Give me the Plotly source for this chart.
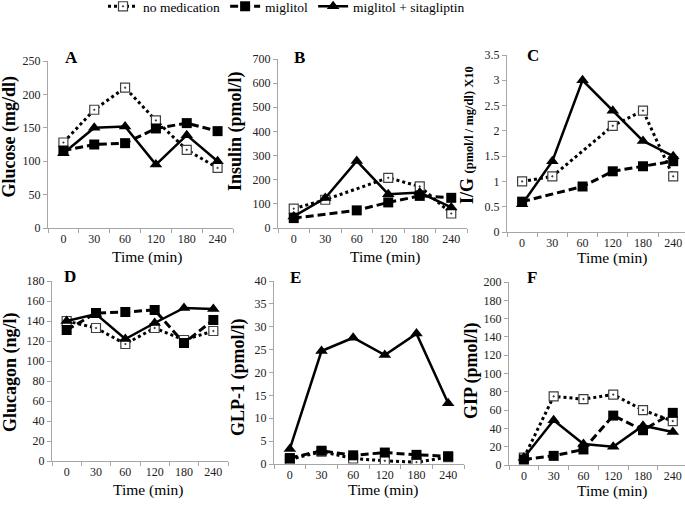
import plotly.graph_objects as go

times = ["0", "30", "60", "120", "180", "240"]
series_names = ["no medication", "miglitol", "miglitol + sitagliptin"]

glucose_none = [128, 177, 210, 161, 117, 90]
glucose_mig = [116, 125, 127, 149, 157, 145]
glucose_sita = [112, 150, 152, 95, 139, 100]

insulin_none = [80, 117, None, 208, 172, 60]
insulin_mig = [41, None, 73, 106, 133, 125]
insulin_sita = [48, 124, 278, 140, 147, 85]

ig_none = [1.0, 1.1, None, 2.1, 2.4, 1.1]
ig_mig = [0.6, None, 0.9, 1.2, 1.3, 1.4]
ig_sita = [0.55, 1.4, 3.0, 2.4, 1.8, 1.5]

glucagon_none = [140, 133, 117, 133, 121, 130]
glucagon_mig = [131, 148, 149, 151, 118, 141]
glucagon_sita = [140, 147, 122, 138, 153, 152]

glp1_none = [1.0, 2.7, 1.2, 0.7, 0.4, 1.5]
glp1_mig = [1.3, 2.9, 1.9, 2.5, 2.0, 1.7]
glp1_sita = [3.3, 24.7, 27.6, 23.8, 28.5, 13.3]

gip_none = [8, 75, 72, 77, 60, 48]
gip_mig = [6, 10, 17, 54, 38, 57]
gip_sita = [8, 49, 23, 20, 43, 36]

panel_letters = ["A", "B", "C", "D", "E", "F"]
y_titles = [
    "Glucose (mg/dl)",
    "Insulin (pmol/l)",
    "I/G <span style='font-size:12.5px'>(pmol/l / mg/dl) X10</span>",
    "Glucagon (ng/l)",
    "GLP-1 (pmol/l)",
    "GIP (pmol/l)",
]
y_max = [250, 700, 3.5, 180, 40, 200]
y_dtick = [50, 100, 0.5, 20, 5, 20]

panels = [
    (glucose_none, glucose_mig, glucose_sita),
    (insulin_none, insulin_mig, insulin_sita),
    (ig_none, ig_mig, ig_sita),
    (glucagon_none, glucagon_mig, glucagon_sita),
    (glp1_none, glp1_mig, glp1_sita),
    (gip_none, gip_mig, gip_sita),
]

W, H = 685, 508
# pixel boxes: left, right, top, bottom, x-range end
boxes = [
    (48, 233, 61, 228, 5.5),
    (278, 467, 59, 228, 5.5),
    (507, 685, 55, 232, 5.39),
    (52, 228, 281, 461, 5.5),
    (274, 464, 281, 464, 5.5),
    (509, 685, 282, 465, 5.41),
]
ytitle_pos = [(9.5, 137), (235, 131), (467, 135), (10, 372), (238, 377), (471, 371)]
xtitle_pos = [(147, 257), (385, 257), (612, 258), (148, 490), (383, 490), (612, 491)]
letter_pos = [(71, 57), (299, 57), (533, 55), (70, 276), (295, 277), (532, 277)]

FONT = "Liberation Serif, Times New Roman, serif"
styles = [
    dict(line=dict(color="black", width=3, dash="3px,3px"),
         marker=dict(symbol="square-dot", size=9, color="white",
                     line=dict(color="#404040", width=1.2))),
    dict(line=dict(color="black", width=3, dash="8px,4px"),
         marker=dict(symbol="square", size=10, color="black")),
    dict(line=dict(color="black", width=2.5),
         marker=dict(symbol="triangle-up", size=11, color="black")),
]

fig = go.Figure()
layout = dict()
annotations = []
for i, (data, box) in enumerate(zip(panels, boxes)):
    n = i + 1
    xa = "x" if n == 1 else f"x{n}"
    ya = "y" if n == 1 else f"y{n}"
    for j in range(3):
        fig.add_trace(go.Scatter(
            x=times, y=data[j], mode="lines+markers", name=series_names[j],
            xaxis=xa, yaxis=ya, connectgaps=True, showlegend=(i == 0),
            legendrank=j, **styles[j]))
    l, r, t, b, xend = box
    layout[f"xaxis{'' if n == 1 else n}"] = dict(
        domain=[l / W, r / W], anchor=ya, type="category",
        categoryorder="array", categoryarray=times,
        range=[-0.5, xend], showgrid=False, zeroline=False,
        showline=True, linecolor="#a6a6a6", linewidth=1,
        ticks="outside", tickson="boundaries", ticklen=4, tickcolor="#a6a6a6",
        tickfont=dict(family=FONT, size=12, color="#222"), fixedrange=True,
        automargin=False)
    layout[f"yaxis{'' if n == 1 else n}"] = dict(
        domain=[1 - b / H, 1 - t / H], anchor=xa, range=[0, y_max[i]],
        dtick=y_dtick[i], tick0=0, showgrid=False, zeroline=False,
        showline=True, linecolor="#a6a6a6", linewidth=1,
        ticks="outside", ticklen=4, tickcolor="#a6a6a6",
        tickfont=dict(family=FONT, size=12, color="#222"), fixedrange=True,
        automargin=False)
    yx, yy = ytitle_pos[i]
    annotations.append(dict(
        text=f"<b>{y_titles[i]}</b>", x=yx / W, y=1 - yy / H, xref="paper", yref="paper",
        textangle=-90, showarrow=False, xanchor="center", yanchor="middle",
        font=dict(family=FONT, size=18, color="black")))
    tx, ty = xtitle_pos[i]
    annotations.append(dict(
        text="Time (min)", x=tx / W, y=1 - ty / H, xref="paper", yref="paper",
        showarrow=False, xanchor="center", yanchor="middle",
        font=dict(family=FONT, size=15.5, color="black")))
    lx, ly = letter_pos[i]
    annotations.append(dict(
        text=f"<b>{panel_letters[i]}</b>", x=lx / W, y=1 - ly / H, xref="paper", yref="paper",
        showarrow=False, xanchor="center", yanchor="middle",
        font=dict(family=FONT, size=17, color="black")))

fig.update_layout(
    width=W, height=H, margin=dict(l=0, r=0, t=0, b=0, autoexpand=False),
    paper_bgcolor="white", plot_bgcolor="white",
    annotations=annotations,
    legend=dict(orientation="h", x=103 / W, y=1 + 9 / H, xanchor="left", yanchor="top",
                font=dict(family=FONT, size=13.5, color="black"),
                bgcolor="rgba(0,0,0,0)", itemwidth=30, traceorder="normal"),
    **layout)

fig.write_html("out.html", config={"displayModeBar": False},
               post_script="document.body.style.margin='0';")
